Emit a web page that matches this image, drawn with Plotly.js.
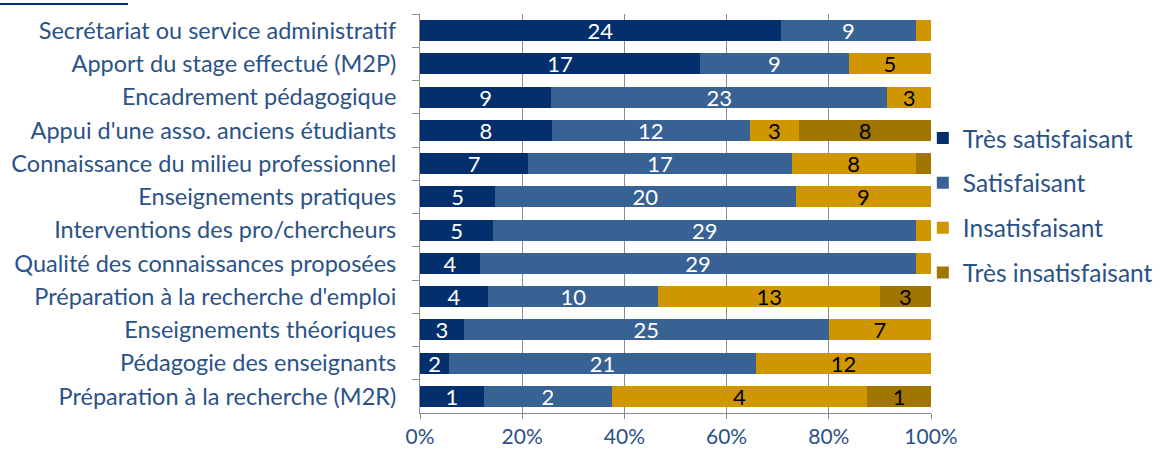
<!DOCTYPE html>
<html>
<head>
<meta charset="utf-8">
<script src="https://cdn.plot.ly/plotly-3.0.1.min.js"></script>
<style>html,body{margin:0;padding:0;background:#fff;overflow:hidden;}#chart{width:1159px;height:450px;}</style>
</head>
<body>
<div id="chart"></div>
<script>
const categories = [
  "Secrétariat ou service administratif",
  "Apport du stage effectué (M2P)",
  "Encadrement pédagogique",
  "Appui d'une asso. anciens étudiants",
  "Connaissance du milieu professionnel",
  "Enseignements pratiques",
  "Interventions des pro/chercheurs",
  "Qualité des connaissances proposées",
  "Préparation à la recherche d'emploi",
  "Enseignements théoriques",
  "Pédagogie des enseignants",
  "Préparation à la recherche (M2R)"
];
const seriesNames = ["Très satisfaisant", "Satisfaisant", "Insatisfaisant", "Très insatisfaisant"];
const tresSatisfaisant   = [24, 17, 9, 8, 7, 5, 5, 4, 4, 3, 2, 1];
const satisfaisant       = [9, 9, 23, 12, 17, 20, 29, 29, 10, 25, 21, 2];
const insatisfaisant     = [1, 5, 3, 3, 8, 9, 1, 1, 13, 7, 12, 4];
const tresInsatisfaisant = [0, 0, 0, 8, 1, 0, 0, 0, 3, 0, 0, 1];
const xTickVals = [0, 20, 40, 60, 80, 100];

const colors = ["#03306c", "#386293", "#d09600", "#a07500"];
const textColors = ["#ffffff", "#ffffff", "#000000", "#000000"];
const allSeries = [tresSatisfaisant, satisfaisant, insatisfaisant, tresInsatisfaisant];
const totals = categories.map((c, i) => allSeries.reduce((s, a) => s + a[i], 0));

const labelColor = "#2b5287";
const fontFam = "Lato, 'Open Sans', sans-serif";

const traces = allSeries.map((vals, k) => ({
  type: "bar",
  orientation: "h",
  name: seriesNames[k],
  y: categories,
  x: vals,
  text: vals.map((v, i) => (v / totals[i] >= 0.05 ? String(v) : "")),
  textposition: "inside",
  insidetextanchor: "middle",
  textangle: 0,
  constraintext: "none",
  textfont: {family: fontFam, size: 22, color: textColors[k]},
  marker: {color: colors[k], line: {width: 0}},
  legendgroup: "g" + k,
  hoverinfo: "skip"
}));

const layout = {
  width: 1159,
  height: 450,
  margin: {l: 420, r: 228, t: 14, b: 37, autoexpand: false},
  paper_bgcolor: "#ffffff",
  plot_bgcolor: "#ffffff",
  barmode: "stack",
  barnorm: "percent",
  bargap: 0.37,
  font: {family: fontFam, size: 20, color: labelColor},
  showlegend: true,
  legend: {
    x: 0.984, xanchor: "left",
    y: 0.52, yanchor: "middle",
    font: {family: fontFam, size: 24.5, color: labelColor},
    tracegroupgap: 10,
    bgcolor: "rgba(0,0,0,0)"
  },
  shapes: [{
    type: "line", xref: "paper", yref: "paper",
    x0: -420 / 511, x1: -292 / 511,
    y0: 1 + 10 / 398.7, y1: 1 + 10 / 398.7,
    line: {color: "#03306c", width: 2}
  }],
  xaxis: {
    range: [0, 100],
    tickvals: xTickVals,
    ticktext: xTickVals.map(v => v + "%"),
    showgrid: true,
    gridcolor: "#8c8c8c",
    gridwidth: 1,
    zeroline: false,
    showline: true,
    linecolor: "#8c8c8c",
    ticks: "outside",
    ticklen: 5,
    tickcolor: "#8c8c8c",
    ticklabelstandoff: 0,
    tickfont: {family: fontFam, size: 21, color: labelColor},
    fixedrange: true
  },
  yaxis: {
    type: "category",
    categoryorder: "array",
    categoryarray: categories,
    autorange: "reversed",
    showline: true,
    linecolor: "#8c8c8c",
    ticks: "outside",
    tickson: "boundaries",
    ticklen: 7,
    tickcolor: "#8c8c8c",
    ticklabelstandoff: 18,
    tickfont: {family: fontFam, size: 23.5, color: labelColor},
    showgrid: false,
    fixedrange: true
  }
};

Plotly.newPlot("chart", traces, layout, {displayModeBar: false, staticPlot: true});
</script>
</body>
</html>
